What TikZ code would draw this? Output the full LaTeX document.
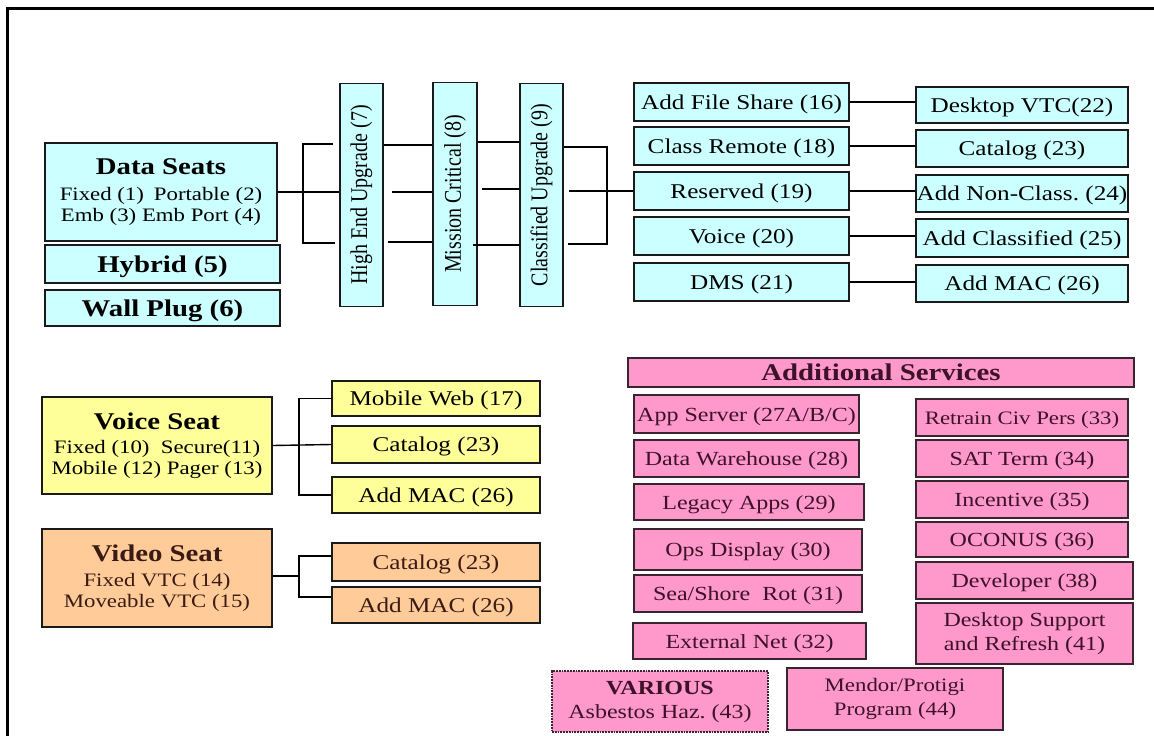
\documentclass[tikz,border=0pt]{standalone}
\usepackage{fontspec}
\setmainfont{Liberation Serif}[FakeStretch=1.2]
\newfontfamily\uprightserif{Liberation Serif}
\usepackage{graphicx}
\usetikzlibrary{positioning, calc}
\definecolor{seatcyan}{HTML}{CCFFFF}
\definecolor{seatyellow}{HTML}{FFFF99}
\definecolor{seatpeach}{HTML}{FFCC99}
\definecolor{svcpink}{HTML}{FF99CC}
\definecolor{boxline}{HTML}{1A1A1A}
\definecolor{pinkline}{HTML}{3A2430}
\definecolor{pinktext}{HTML}{3D1228}
\definecolor{peachtext}{HTML}{3A1A14}
\newcommand{\headsize}{\fontsize{24}{27}\selectfont}
\newcommand{\itemsize}{\fontsize{21}{24}\selectfont}
\newcommand{\subsize}{\fontsize{19}{21}\selectfont}
\newcommand{\upright}[1]{\scalebox{1.2}[1]{\rotatebox{90}{#1}}}
\tikzset{
  oneline/.style={text height=15pt,text depth=1pt},
  cyanbox/.style={draw=boxline,line width=1.6pt,fill=seatcyan,inner sep=0pt,align=center,font=\itemsize},
  colA/.style={cyanbox,oneline,minimum width=215pt,minimum height=38pt},
  colB/.style={cyanbox,oneline,minimum width=212pt,minimum height=37pt},
  stage/.style={cyanbox,minimum width=43pt,minimum height=223pt,font=\uprightserif\fontsize{20}{22}\selectfont},
  seat/.style={draw=boxline,line width=1.6pt,inner sep=0pt,align=center,font=\subsize,minimum width=230pt,minimum height=97pt},
  voicebox/.style={draw=boxline,line width=1.6pt,fill=seatyellow,inner sep=0pt,oneline,font=\itemsize,minimum width=208pt,minimum height=36pt},
  videobox/.style={voicebox,fill=seatpeach,text=peachtext},
  svc/.style={draw=pinkline,line width=1.8pt,fill=svcpink,text=pinktext,inner sep=0pt,align=center,font=\fontsize{20}{24}\selectfont},
  svcL/.style={svc,oneline,minimum width=226pt,minimum height=37pt},
  svcR/.style={svc,oneline,minimum width=212pt,minimum height=37pt},
  link/.style={line width=1.4pt,black},
}
\begin{document}
\begin{tikzpicture}[x=1pt,y=-1pt]
  \useasboundingbox (0,0) rectangle (1154,736);
  \draw[line width=3pt] (7,740) -- (7,8) -- (1160,8);

  % data seats
  \node[cyanbox,font=\subsize,minimum width=232pt,minimum height=98pt] (ds) at (161,192)
    {{\headsize\bfseries Data Seats}\\[5pt]Fixed (1)\hspace{10pt}Portable (2)\\Emb (3) Emb Port (4)};
  \node[cyanbox,oneline,text height=17pt,font=\headsize\bfseries,minimum width=235pt,minimum height=38pt] (hyb) at (162.5,264) {Hybrid (5)};
  \node[cyanbox,oneline,text height=17pt,font=\headsize\bfseries,minimum width=235pt,minimum height=36pt] (wall) at (162.5,308) {Wall Plug (6)};

  \node[stage] (he) at (361.5,195) {\upright{High End Upgrade (7)}};
  \node[stage,minimum width=44pt] (mc) at (455,194) {\upright{Mission Critical (8)}};
  \node[stage] (cu) at (541.5,195) {\upright{Classified Upgrade (9)}};

  \node[colA] (fs) at (741.5,102) {Add File Share (16)};
  \node[colA] (cr) at (741.5,146) {Class Remote (18)};
  \node[colA] (rs) at (741.5,191) {Reserved (19)};
  \node[colA] (vc) at (741.5,236) {Voice (20)};
  \node[colA] (dms) at (741.5,282) {DMS (21)};

  \node[colB,minimum height=36pt] (vtc) at (1022,105) {Desktop VTC(22)};
  \node[colB] (cat) at (1022,148.5) {Catalog (23)};
  \node[colB] (nc) at (1022,193.5) {Add Non-Class.\ (24)};
  \node[colB,minimum height=38pt] (acl) at (1022,238) {Add Classified (25)};
  \node[colB] (mac) at (1022,283.5) {Add MAC (26)};

  \draw[link] (333,144) -- (303,144) -- (303,243) -- (335,243);
  \draw[link] (ds.east) -- (he.west |- ds.east);
  \draw[link] (he.east |- 0,145) -- (mc.west |- 0,145);
  \draw[link] (392,192) -- (mc.west |- 0,192);
  \draw[link] (388,242) -- (mc.west |- 0,242);
  \draw[link] (mc.east |- 0,142) -- (cu.west |- 0,142);
  \draw[link] (482,189) -- (cu.west |- 0,189);
  \draw[link] (473,245) -- (cu.west |- 0,245);
  \draw[link] (cu.east |- 0,147) -- (607,147) -- (607,244) -- (568,244);
  \draw[link] (569,191) -- (rs.west);
  \foreach \a/\b in {fs/vtc,cr/cat,rs/nc,vc/acl,dms/mac}
    \draw[link] (\a.east) -- (\a.east -| \b.west);

  % voice seat
  \node[seat,fill=seatyellow] (vs) at (157,445.5)
    {{\headsize\bfseries Voice Seat}\\[3pt]Fixed (10)\ \ Secure(11)\\Mobile (12) Pager (13)};
  \node[voicebox,minimum height=35pt] (mw) at (436,398.5) {Mobile Web (17)};
  \node[voicebox,minimum height=37pt] (vcat) at (436,444.5) {Catalog (23)};
  \node[voicebox] (vmac) at (436,495) {Add MAC (26)};
  \coordinate (vbr) at (299,445);
  \draw[link] (vs.east) -- (vcat.west);
  \draw[link] (mw.west) -- (mw.west -| vbr) -- (vmac.west -| vbr) -- (vmac.west);

  % video seat
  \node[seat,fill=seatpeach,text=peachtext,minimum height=98pt] (vds) at (157,578)
    {{\headsize\bfseries Video Seat}\\[4pt]Fixed VTC (14)\\Moveable VTC (15)};
  \node[videobox,minimum height=38pt] (dcat) at (436,562) {Catalog (23)};
  \node[videobox] (dmac) at (436,605) {Add MAC (26)};
  \draw[link] (vds.east |- 0,576) -- (299,576);
  \draw[link] (dcat.west |- 0,556) -- (299,556) -- (299,597) -- (dmac.west |- 0,597);

  % additional services
  \node[svc,oneline,text height=17pt,font=\headsize\bfseries,minimum width=506pt,minimum height=29pt] (add) at (881,372.5) {Additional Services};
  \node[svcL,minimum width=225pt,minimum height=38pt] (app) at (746.5,414) {App Server (27A/B/C)};
  \node[svcL,minimum width=225pt] (dw) at (746.5,458.5) {Data Warehouse (28)};
  \node[svcL,minimum width=230pt,minimum height=36pt] (leg) at (749,502) {Legacy Apps (29)};
  \node[svcL,minimum width=228pt,minimum height=41pt] (ops) at (748,549.5) {Ops Display (30)};
  \node[svcL,minimum width=228pt] (sea) at (748,593.5) {Sea/Shore\ \ Rot (31)};
  \node[svcL,minimum width=233pt,minimum height=36pt] (ext) at (749.5,641) {External Net (32)};

  \node[svcR,font=\fontsize{19}{22}\selectfont] (civ) at (1022,417.5) {Retrain Civ Pers (33)};
  \node[svcR] (sat) at (1022,458.5) {SAT Term (34)};
  \node[svcR] (inc) at (1022,499.5) {Incentive (35)};
  \node[svcR,minimum height=35pt] (oco) at (1022,539.5) {OCONUS (36)};
  \node[svcR,minimum width=217pt] (dev) at (1024.5,580.5) {Developer (38)};
  \node[svc,minimum width=217pt,minimum height=61pt] (dsk) at (1024.5,633.5) {Desktop Support\\and Refresh (41)};

  \node[svc,densely dotted,line width=1.5pt,minimum width=216pt,minimum height=61pt] (var) at (660,701.5)
    {{\bfseries VARIOUS}\\Asbestos Haz.\ (43)};
  \node[svc,font=\fontsize{19}{24}\selectfont,minimum width=216pt,minimum height=62pt] (men) at (895,699)
    {Mendor/Protigi\\Program (44)};
\end{tikzpicture}
\end{document}
